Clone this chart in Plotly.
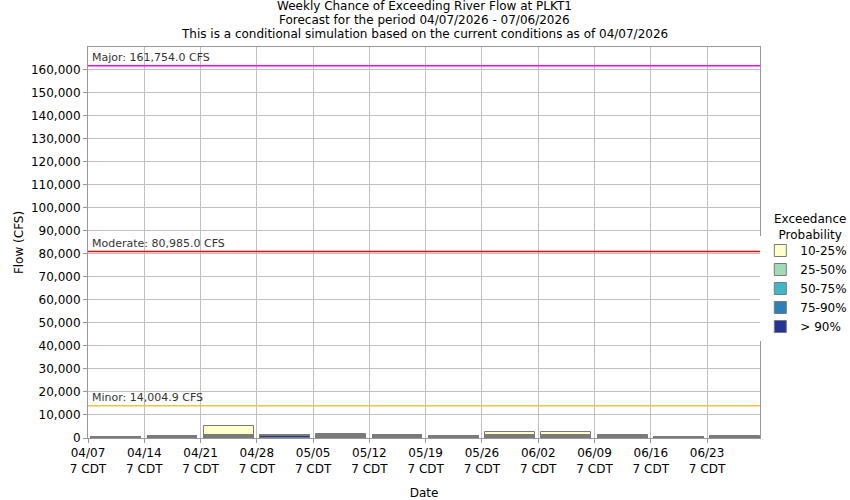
import plotly.graph_objects as go
import pandas as pd

# weekly forecast periods (start dates)
week_start = ["2026-04-07", "2026-04-14", "2026-04-21", "2026-04-28", "2026-05-05", "2026-05-12",
              "2026-05-19", "2026-05-26", "2026-06-02", "2026-06-09", "2026-06-16", "2026-06-23"]
tick_text = ["04/07<br>7 CDT", "04/14<br>7 CDT", "04/21<br>7 CDT", "04/28<br>7 CDT", "05/05<br>7 CDT",
             "05/12<br>7 CDT", "05/19<br>7 CDT", "05/26<br>7 CDT", "06/02<br>7 CDT", "06/09<br>7 CDT",
             "06/16<br>7 CDT", "06/23<br>7 CDT"]

# flow (cfs) exceeded at each probability level
flow_10 = [500, 900, 5000, 1500, 1900, 1500, 1000, 2700, 2700, 1300, 500, 900]
flow_25 = [450, 800, 1100, 1300, 1100, 1200, 700, 1100, 1400, 700, 450, 600]
flow_50 = [400, 700, 900, 1100, 900, 900, 500, 900, 1100, 500, 400, 500]
flow_75 = [350, 600, 700, 900, 700, 700, 400, 700, 800, 400, 350, 400]
flow_90 = [300, 500, 500, 700, 500, 500, 300, 500, 600, 300, 300, 350]

levels = ["10-25%", "25-50%", "50-75%", "75-90%", "> 90%"]
level_colors = ["#FFFFCC", "#A1DAB4", "#41B6C4", "#2C7FB8", "#253494"]

# flood stage thresholds
stage_names = ["Major", "Moderate", "Minor"]
stage_flows = [161754.0, 80985.0, 14004.9]
stage_colors = ["#FF00FF", "#FF0000", "#F2C140"]

title_lines = ["Weekly Chance of Exceeding River Flow at PLKT1",
               "Forecast for the period 04/07/2026 - 07/06/2026",
               "This is a conditional simulation based on the current conditions as of 04/07/2026"]

starts = pd.to_datetime(week_start)
centers = starts + pd.Timedelta(hours=84)
bar_width = 6.2 * 24 * 3600 * 1000

fig = go.Figure()

for name, vals, col in zip(levels, [flow_10, flow_25, flow_50, flow_75, flow_90], level_colors):
    fig.add_trace(go.Bar(x=centers, y=vals, width=bar_width, name=name,
                         marker=dict(color=col, line=dict(color="#7a7a7a", width=1))))

# threshold lines + labels
for name, flow, col in zip(stage_names, stage_flows, stage_colors):
    fig.add_shape(type="line", xref="paper", x0=0, x1=1, y0=flow, y1=flow,
                  line=dict(color=col, width=1.5))
    fig.add_annotation(xref="paper", x=0.003, y=flow, yshift=0, xanchor="left", yanchor="bottom",
                       text=f"{name}: {flow:,.1f} CFS", showarrow=False,
                       font=dict(size=11, color="#333333"))

# title as three centered lines above the plot
for i, line in enumerate(title_lines):
    fig.add_annotation(xref="paper", yref="paper", x=0.5, y=1, yshift=32 - i * 14,
                       xanchor="center", yanchor="bottom", text=line, showarrow=False,
                       font=dict(size=12, color="black"))

# legend heading, centred over the legend column
fig.add_annotation(xref="paper", yref="paper", x=1.074, y=0.54, xanchor="center", yanchor="middle",
                   text="Exceedance<br>Probability", showarrow=False, font=dict(size=12, color="black"))

fig.update_layout(
    width=850, height=500,
    margin=dict(l=88, r=90, t=47, b=62),
    paper_bgcolor="white", plot_bgcolor="white",
    font=dict(family="DejaVu Sans", size=12, color="black"),
    barmode="overlay", bargap=0,
    legend=dict(xref="container", yref="container", x=0.8945, xanchor="left", y=0.528, yanchor="top",
                font=dict(size=12), tracegroupgap=0),
    showlegend=True,
)

fig.update_xaxes(type="date", range=[starts[0], starts[-1] + pd.Timedelta(hours=158)],
                 tickvals=starts, ticktext=tick_text, tickangle=0, automargin=False,
                 showgrid=True, gridcolor="#C0C0C0", gridwidth=1,
                 showline=True, linecolor="#999999", mirror=True, linewidth=1,
                 ticks="outside", ticklen=4, tickcolor="#999999",
                 title=dict(text="Date", font=dict(size=12)))
fig.update_yaxes(range=[0, 169900], dtick=10000, tickformat=",d", automargin=False,
                 showgrid=True, gridcolor="#C0C0C0", gridwidth=1,
                 showline=True, linecolor="#999999", mirror=True, linewidth=1,
                 ticks="outside", ticklen=4, tickcolor="#999999", zeroline=False,
                 title=dict(text="Flow (CFS)", font=dict(size=12), standoff=4))

# drop the page's default body margin so the figure sits at the window corner
fig.write_html("out.html", config={"displayModeBar": False},
               post_script="document.body.style.margin='0';")
